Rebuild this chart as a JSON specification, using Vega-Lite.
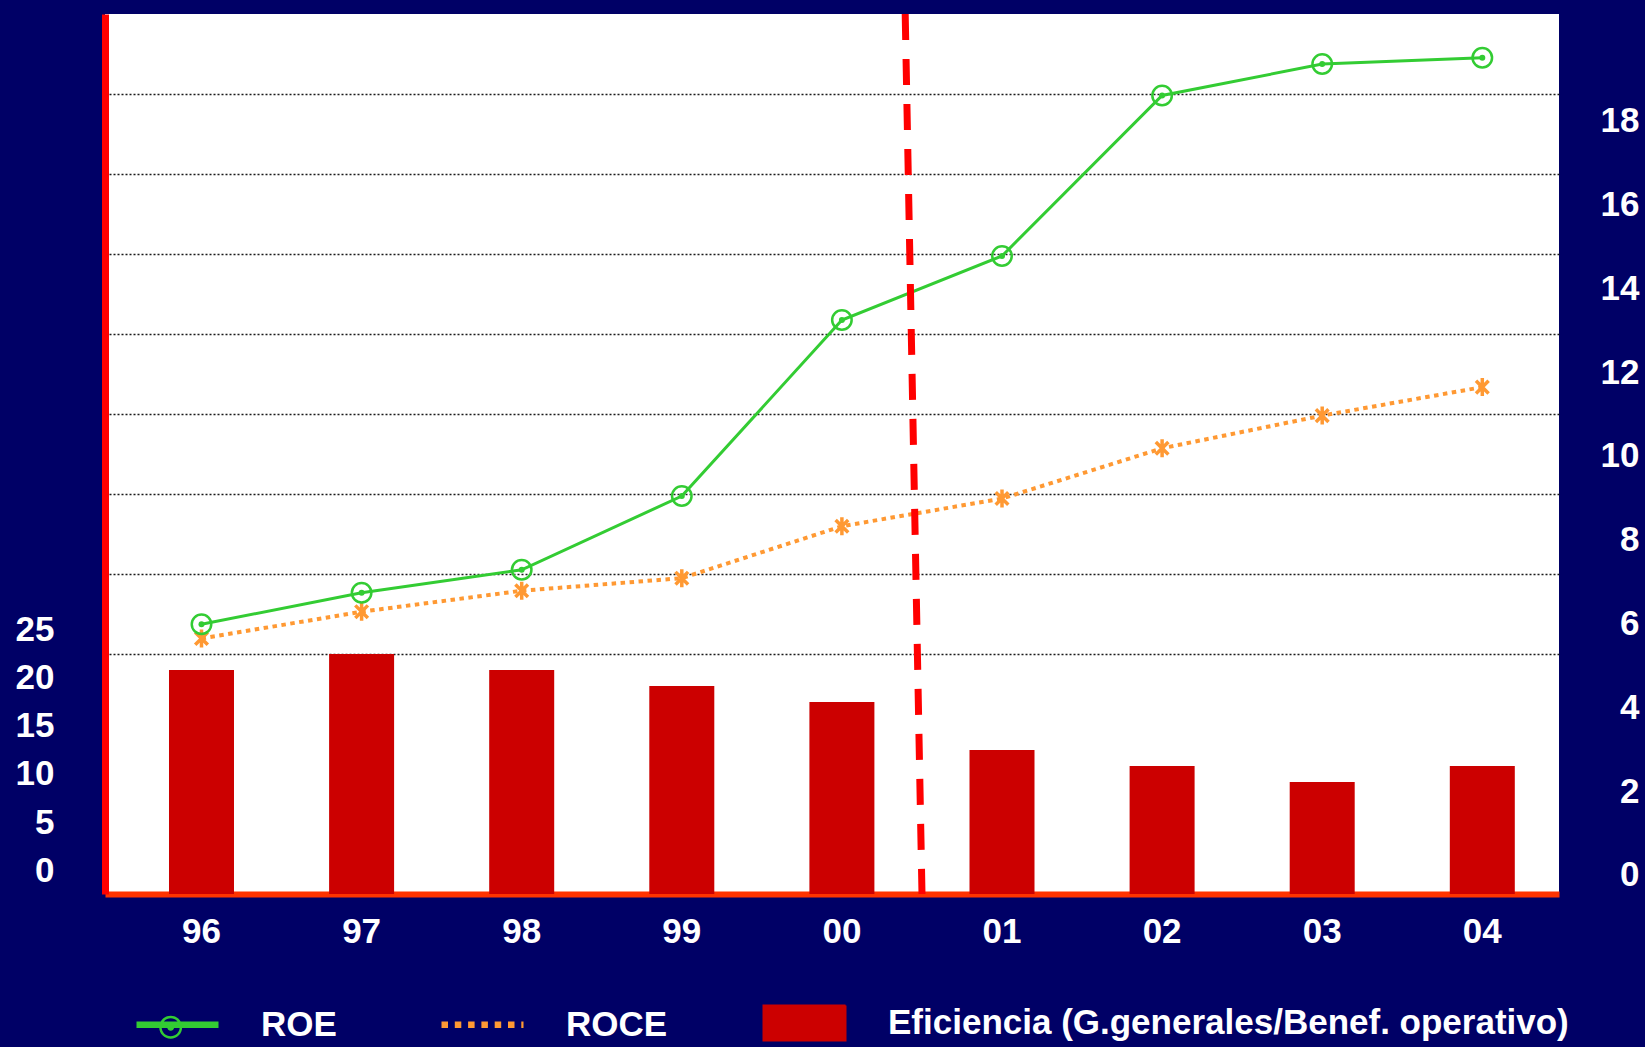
{
  "$schema": "https://vega.github.io/schema/vega-lite/v6.json",
  "width": 1454,
  "height": 880,
  "autosize": {"type": "none"},
  "padding": {"left": 105, "top": 14, "right": 86, "bottom": 153},
  "background": "#000066",
  "datasets": {
    "d": [
      {"year": "96", "serie": "ROE", "value": 5.98},
      {"year": "97", "serie": "ROE", "value": 6.73},
      {"year": "98", "serie": "ROE", "value": 7.28},
      {"year": "99", "serie": "ROE", "value": 9.04},
      {"year": "00", "serie": "ROE", "value": 13.24},
      {"year": "01", "serie": "ROE", "value": 14.77},
      {"year": "02", "serie": "ROE", "value": 18.6},
      {"year": "03", "serie": "ROE", "value": 19.35},
      {"year": "04", "serie": "ROE", "value": 19.5},
      {"year": "96", "serie": "ROCE", "value": 5.64},
      {"year": "97", "serie": "ROCE", "value": 6.28},
      {"year": "98", "serie": "ROCE", "value": 6.78},
      {"year": "99", "serie": "ROCE", "value": 7.08},
      {"year": "00", "serie": "ROCE", "value": 8.32},
      {"year": "01", "serie": "ROCE", "value": 8.98},
      {"year": "02", "serie": "ROCE", "value": 10.18},
      {"year": "03", "serie": "ROCE", "value": 10.96},
      {"year": "04", "serie": "ROCE", "value": 11.64},
      {"year": "96", "serie": "Eficiencia (G.generales/Benef. operativo)", "value": 20.76},
      {"year": "97", "serie": "Eficiencia (G.generales/Benef. operativo)", "value": 22.41},
      {"year": "98", "serie": "Eficiencia (G.generales/Benef. operativo)", "value": 20.76},
      {"year": "99", "serie": "Eficiencia (G.generales/Benef. operativo)", "value": 19.1},
      {"year": "00", "serie": "Eficiencia (G.generales/Benef. operativo)", "value": 17.45},
      {"year": "01", "serie": "Eficiencia (G.generales/Benef. operativo)", "value": 12.48},
      {"year": "02", "serie": "Eficiencia (G.generales/Benef. operativo)", "value": 10.82},
      {"year": "03", "serie": "Eficiencia (G.generales/Benef. operativo)", "value": 9.17},
      {"year": "04", "serie": "Eficiencia (G.generales/Benef. operativo)", "value": 10.82}
    ]
  },
  "data": {"name": "d"},
  "config": {
    "view": {"fill": "#FFFFFF", "stroke": null},
    "axis": {
      "labelFont": "Liberation Sans",
      "labelFontWeight": "bold",
      "labelColor": "#FFFFFF",
      "labelFontSize": 35,
      "ticks": false,
      "tickSize": 0,
      "labelOverlap": false,
      "title": null
    }
  },
  "resolve": {"scale": {"y": "independent"}, "axis": {"y": "independent"}},
  "layer": [
    {
      "mark": {"type": "rule", "opacity": 0},
      "encoding": {
        "y": {
          "datum": 0,
          "type": "quantitative",
          "scale": {"domain": [0, 11], "nice": false, "zero": false},
          "axis": {
            "orient": "left",
            "values": [3, 4, 5, 6, 7, 8, 9, 10],
            "grid": true,
            "gridColor": "#1a1a1a",
            "gridDash": [2, 2],
            "gridWidth": 1.5,
            "labels": false,
            "ticks": false,
            "domain": false,
            "title": null
          }
        }
      }
    },
    {
      "transform": [{"filter": "datum.serie != 'ROE' && datum.serie != 'ROCE'"}],
      "mark": {"type": "bar"},
      "encoding": {
        "x": {
          "field": "year", "type": "nominal",
          "sort": ["96", "97", "98", "99", "00", "01", "02", "03", "04"],
          "scale": {"domain": ["96", "97", "98", "99", "00", "01", "02", "03", "04"], "paddingInner": 0.594, "paddingOuter": 0.3379, "align": 0.5915},
          "axis": {"orient": "bottom", "title": null, "labelAngle": 0, "labelPadding": 20, "domainColor": "#FF3300", "domainWidth": 6, "ticks": false, "grid": false}
        },
        "y": {
          "field": "value", "type": "quantitative",
          "scale": {"domain": [-2.421, 88.64], "nice": false, "zero": false},
          "axis": {"orient": "left", "values": [0, 5, 10, 15, 20, 25], "grid": false, "domainColor": "#FF0000", "domainWidth": 7, "labelPadding": 51, "title": null}
        },
        "y2": {"datum": -2.421},
        "color": {
          "field": "serie", "type": "nominal",
          "scale": {"domain": ["ROE", "ROCE", "Eficiencia (G.generales/Benef. operativo)"], "range": ["#33CC33", "#FF9933", "#CC0000"]},
          "legend": {
            "title": null, "orient": "none", "legendX": 55, "legendY": 991, "direction": "horizontal", "padding": 0,
            "symbolSize": 6724, "symbolStrokeWidth": 0,
            "labelFont": "Liberation Sans", "labelFontWeight": "bold", "labelFontSize": 35, "labelColor": "#FFFFFF",
            "labelOffset": 66, "columnPadding": 91, "labelLimit": 1000,
            "encode": {"symbols": {"update": {
              "shape": {"signal": "datum.value === 'ROE' ? 'M-1,-0.078H1V0.078H-1Z M-0.446,0.06A0.28,0.28 0 1,1 0.114,0.06A0.28,0.28 0 1,1 -0.446,0.06Z M-0.386,0.06A0.22,0.22 0 1,0 0.054,0.06A0.22,0.22 0 1,0 -0.386,0.06Z M-0.251,0.06A0.085,0.085 0 1,1 -0.081,0.06A0.085,0.085 0 1,1 -0.251,0.06Z' : datum.value === 'ROCE' ? 'M-1,0H1' : 'M-1,-0.427H1V0.427H-1Z'"},
              "size": {"value": 6724},
              "fill": {"signal": "datum.value === 'ROE' ? '#33CC33' : datum.value === 'ROCE' ? 'transparent' : '#CC0000'"},
              "stroke": {"signal": "datum.value === 'ROE' ? 'transparent' : datum.value === 'ROCE' ? '#FF9933' : '#FFFFFF'"},
              "strokeWidth": {"signal": "datum.value === 'ROE' ? 0 : datum.value === 'ROCE' ? 6.5 : 2"},
              "strokeDash": {"signal": "datum.value === 'ROCE' ? [6.5, 6.8] : [1, 0]"},
              "opacity": {"value": 1}
            }}}
          }
        }
      }
    },
    {
      "encoding": {
        "x": {
          "field": "year", "type": "nominal",
          "sort": ["96", "97", "98", "99", "00", "01", "02", "03", "04"],
          "scale": {"domain": ["96", "97", "98", "99", "00", "01", "02", "03", "04"], "paddingInner": 0.594, "paddingOuter": 0.3379, "align": 0.5915},
          "axis": {"orient": "bottom", "title": null, "labelAngle": 0, "labelPadding": 20, "domainColor": "#FF3300", "domainWidth": 6, "ticks": false, "grid": false}
        },
        "y": {
          "field": "value", "type": "quantitative",
          "scale": {"domain": [-0.458, 20.545], "nice": false, "zero": false},
          "axis": {"orient": "right", "values": [0, 2, 4, 6, 8, 10, 12, 14, 16, 18], "grid": false, "domain": false, "labelAlign": "right", "labelPadding": 80, "title": null}
        },
        "color": {
          "field": "serie", "type": "nominal",
          "scale": {"domain": ["ROE", "ROCE", "Eficiencia (G.generales/Benef. operativo)"], "range": ["#33CC33", "#FF9933", "#CC0000"]},
          "legend": {
            "title": null, "orient": "none", "legendX": 55, "legendY": 991, "direction": "horizontal", "padding": 0,
            "symbolSize": 6724, "symbolStrokeWidth": 0,
            "labelFont": "Liberation Sans", "labelFontWeight": "bold", "labelFontSize": 35, "labelColor": "#FFFFFF",
            "labelOffset": 66, "columnPadding": 91, "labelLimit": 1000,
            "encode": {"symbols": {"update": {
              "shape": {"signal": "datum.value === 'ROE' ? 'M-1,-0.078H1V0.078H-1Z M-0.446,0.06A0.28,0.28 0 1,1 0.114,0.06A0.28,0.28 0 1,1 -0.446,0.06Z M-0.386,0.06A0.22,0.22 0 1,0 0.054,0.06A0.22,0.22 0 1,0 -0.386,0.06Z M-0.251,0.06A0.085,0.085 0 1,1 -0.081,0.06A0.085,0.085 0 1,1 -0.251,0.06Z' : datum.value === 'ROCE' ? 'M-1,0H1' : 'M-1,-0.427H1V0.427H-1Z'"},
              "size": {"value": 6724},
              "fill": {"signal": "datum.value === 'ROE' ? '#33CC33' : datum.value === 'ROCE' ? 'transparent' : '#CC0000'"},
              "stroke": {"signal": "datum.value === 'ROE' ? 'transparent' : datum.value === 'ROCE' ? '#FF9933' : '#FFFFFF'"},
              "strokeWidth": {"signal": "datum.value === 'ROE' ? 0 : datum.value === 'ROCE' ? 6.5 : 2"},
              "strokeDash": {"signal": "datum.value === 'ROCE' ? [6.5, 6.8] : [1, 0]"},
              "opacity": {"value": 1}
            }}}
          }
        }
      },
      "layer": [
        {
          "transform": [{"filter": "datum.serie == 'ROCE'"}],
          "mark": {"type": "line", "strokeWidth": 4, "strokeDash": [4.5, 4.5], "strokeCap": "butt"}
        },
        {
          "transform": [{"filter": "datum.serie == 'ROCE'"}],
          "mark": {"type": "point", "shape": "M0,-1V1M-0.7,-0.7L0.7,0.7M-0.7,0.7L0.7,-0.7", "filled": false, "size": 324, "strokeWidth": 3.5, "opacity": 1}
        },
        {
          "transform": [{"filter": "datum.serie == 'ROE'"}],
          "mark": {"type": "line", "strokeWidth": 3}
        },
        {
          "transform": [{"filter": "datum.serie == 'ROE'"}],
          "mark": {"type": "point", "shape": "circle", "filled": false, "size": 380, "strokeWidth": 2.5, "opacity": 1}
        },
        {
          "transform": [{"filter": "datum.serie == 'ROE'"}],
          "mark": {"type": "point", "shape": "circle", "filled": true, "size": 36, "opacity": 1}
        }
      ]
    },
    {
      "data": {"values": [{"corte": "00/01"}]},
      "mark": {"type": "rule", "color": "#FF0000", "strokeWidth": 7, "strokeDash": [26, 19], "strokeCap": "butt", "xOffset": 63.3, "x2Offset": 80.1},
      "encoding": {
        "x": {
          "datum": "00", "type": "nominal",
          "scale": {"domain": ["96", "97", "98", "99", "00", "01", "02", "03", "04"], "paddingInner": 0.594, "paddingOuter": 0.3379, "align": 0.5915},
          "axis": {"orient": "bottom", "title": null, "labelAngle": 0, "labelPadding": 20, "domainColor": "#FF3300", "domainWidth": 6, "ticks": false, "grid": false}
        },
        "x2": {"datum": "00"},
        "y": {"datum": 1, "type": "quantitative", "scale": {"domain": [0, 1], "nice": false}, "axis": null},
        "y2": {"datum": 0}
      }
    }
  ]
}
